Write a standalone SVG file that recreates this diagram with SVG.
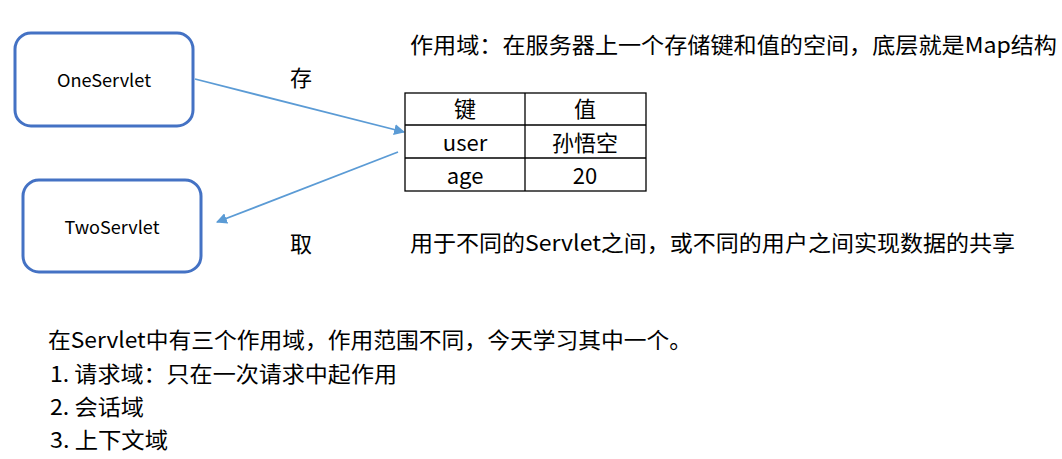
<svg xmlns="http://www.w3.org/2000/svg" width="1062" height="459" viewBox="0 0 1062 459">
<style>
text{font-family:"Noto Sans CJK SC","Noto Sans",sans-serif;fill:#000;}
.node{fill:#fff;stroke:#4472C4;stroke-width:3;}
.lbl{font-size:17.5px;text-anchor:middle;dominant-baseline:central;}
.t{font-size:22px;}
.c{font-size:22px;text-anchor:middle;dominant-baseline:central;}
.conn{stroke:#5B9BD5;stroke-width:1.8;fill:none;marker-end:url(#ah);}
.grid{stroke:#000;stroke-width:1.3;fill:none;}
</style>
<defs>
<marker id="ah" viewBox="0 0 10 10" refX="9" refY="5" markerWidth="11" markerHeight="11" markerUnits="userSpaceOnUse" orient="auto">
<path d="M0,0 L10,5 L0,10 z" fill="#5B9BD5"/>
</marker>
</defs>
<rect width="1062" height="459" fill="#fff"/>
<g id="OneServlet">
<rect class="node" x="15" y="33" width="178" height="93" rx="16"/>
<text class="lbl" x="104" y="79" textLength="94" lengthAdjust="spacingAndGlyphs">OneServlet</text>
</g>
<g id="TwoServlet">
<rect class="node" x="23" y="180" width="178" height="92" rx="16"/>
<text class="lbl" x="112" y="226" textLength="95" lengthAdjust="spacingAndGlyphs">TwoServlet</text>
</g>
<g id="connectors">
<line class="conn" x1="195" y1="79" x2="404" y2="132"/>
<line class="conn" x1="398" y1="152" x2="217" y2="222"/>
<text class="c" x="301" y="76">存</text>
<text class="c" x="301" y="242">取</text>
</g>
<g id="table">
<rect class="grid" x="405" y="93" width="241" height="98"/>
<line class="grid" x1="405" y1="125" x2="646" y2="125"/>
<line class="grid" x1="405" y1="158" x2="646" y2="158"/>
<line class="grid" x1="525" y1="93" x2="525" y2="191"/>
<text class="c" x="465" y="107">键</text>
<text class="c" x="585" y="107">值</text>
<text class="c" x="465" y="141">user</text>
<text class="c" x="585" y="141">孙悟空</text>
<text class="c" x="465" y="174">age</text>
<text class="c" x="585" y="174">20</text>
</g>
<g id="notes">
<text class="t" x="410" y="53" textLength="647" lengthAdjust="spacingAndGlyphs">作用域：在服务器上一个存储键和值的空间，底层就是Map结构</text>
<text class="t" x="410" y="251" textLength="605" lengthAdjust="spacingAndGlyphs">用于不同的Servlet之间，或不同的用户之间实现数据的共享</text>
<text class="t" x="48" y="348" textLength="644" lengthAdjust="spacingAndGlyphs">在Servlet中有三个作用域，作用范围不同，今天学习其中一个。</text>
<text class="t" x="50" y="382" textLength="347" lengthAdjust="spacingAndGlyphs">1. 请求域：只在一次请求中起作用</text>
<text class="t" x="50" y="415" textLength="94" lengthAdjust="spacingAndGlyphs">2. 会话域</text>
<text class="t" x="50" y="448" textLength="118" lengthAdjust="spacingAndGlyphs">3. 上下文域</text>
</g>
</svg>
